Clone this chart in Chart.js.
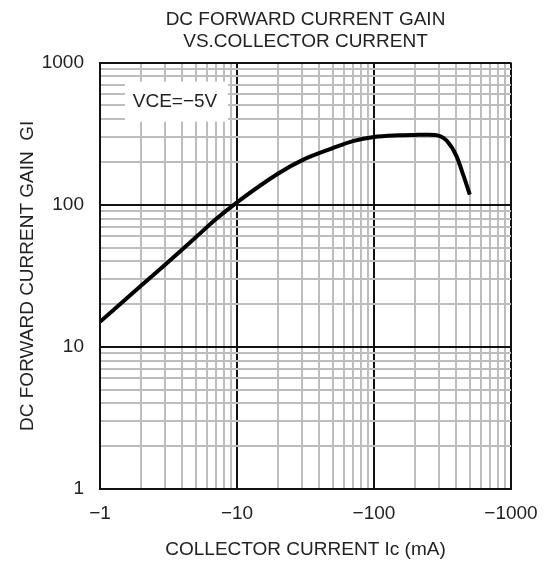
<!DOCTYPE html>
<html>
<head>
<meta charset="utf-8">
<script src="https://cdn.jsdelivr.net/npm/chart.js@4"></script>
<style>
  html, body { margin: 0; padding: 0; background: #fff; }
  #wrap { width: 544px; height: 564px; }
</style>
</head>
<body>
<div id="wrap"><canvas id="gainChart"></canvas></div>
<script>
// values (Ic in mA, negative = PNP)
const collectorCurrent = [-1, -2, -3, -5, -7, -10, -20, -30, -50, -70, -100, -150, -200, -250, -300, -340, -400, -450, -500];
const currentGain = [15, 27, 38, 59, 79, 104, 166, 206, 250, 280, 300, 308, 310, 311, 305, 282, 220, 160, 118];
const xDecades = [1, 10, 100, 1000];
const yDecades = [1, 10, 100, 1000];
const conditionLabel = 'VCE=\u22125V';

const fontFamily = "'Liberation Sans', Arial, sans-serif";
const textColor = '#222';

// 1,2,...9,10,20,... gridlines for a log-log paper look
function logGrid(decades) {
    const vals = [];
    for (let i = 0; i < decades.length; i++) {
        vals.push(decades[i]);
        if (i < decades.length - 1) {
            for (let k = 2; k <= 9; k++) vals.push(decades[i] * k);
        }
    }
    return vals;
}

function isDecade(v) {
    return Math.abs(Math.log10(v) - Math.round(Math.log10(v))) < 1e-9;
}

const conditionBox = {
    id: 'conditionBox',
    beforeDatasetsDraw(chart) {
        const { ctx, chartArea } = chart;
        const x = chartArea.left + 25;
        const y = chartArea.top + 19;
        ctx.save();
        ctx.fillStyle = '#fff';
        ctx.fillRect(x, y, 103, 40);
        ctx.fillStyle = textColor;
        ctx.font = '19px ' + fontFamily;
        ctx.textAlign = 'center';
        ctx.textBaseline = 'middle';
        ctx.fillText(conditionLabel, x + 50, y + 20);
        ctx.restore();
    }
};

const ctx = document.getElementById('gainChart').getContext('2d');
const gainChart = new Chart(ctx, {
    type: 'line',
    data: {
        datasets: [{
            label: 'hFE',
            data: collectorCurrent.map((ic, i) => ({ x: Math.abs(ic), y: currentGain[i] })),
            borderColor: '#000',
            borderWidth: 4,
            pointRadius: 0,
            cubicInterpolationMode: 'monotone',
            fill: false
        }]
    },
    options: {
        responsive: true,
        maintainAspectRatio: false,
        animation: false,
        layout: { padding: { left: 0, right: 33, top: 0, bottom: 0 } },
        plugins: {
            legend: { display: false },
            tooltip: { enabled: false },
            title: {
                display: true,
                fullSize: false,
                text: ['DC FORWARD CURRENT GAIN', 'VS.COLLECTOR CURRENT'],
                color: textColor,
                font: { family: fontFamily, size: 19, weight: 'normal', lineHeight: 1.2 },
                padding: { top: 8, bottom: 9 }
            }
        },
        scales: {
            x: {
                type: 'logarithmic',
                min: 1,
                max: 1000,
                afterBuildTicks: s => { s.ticks = logGrid(xDecades).map(v => ({ value: v })); },
                afterFit: s => { s.height = 75; s.paddingLeft = 0; s.paddingRight = 0; },
                ticks: {
                    autoSkip: false,
                    maxRotation: 0,
                    padding: 13,
                    color: textColor,
                    font: { family: fontFamily, size: 19 },
                    callback: v => xDecades.includes(v) ? '\u2212' + v : ''
                },
                grid: {
                    drawTicks: false,
                    color: c => (c.tick && isDecade(c.tick.value)) ? '#111' : '#bdbdbd',
                    lineWidth: 2
                },
                border: { color: '#111', width: 2 },
                title: {
                    display: true,
                    text: 'COLLECTOR CURRENT Ic (mA)',
                    color: textColor,
                    font: { family: fontFamily, size: 19 },
                    padding: { top: 10, bottom: 3 }
                }
            },
            y: {
                type: 'logarithmic',
                min: 1,
                max: 1000,
                afterBuildTicks: s => { s.ticks = logGrid(yDecades).map(v => ({ value: v })); },
                afterFit: s => { s.width = 100; },
                ticks: {
                    autoSkip: false,
                    padding: 16,
                    color: textColor,
                    font: { family: fontFamily, size: 19 },
                    callback: v => yDecades.includes(v) ? String(v) : ''
                },
                grid: {
                    drawTicks: false,
                    color: c => (c.tick && isDecade(c.tick.value)) ? '#111' : '#bdbdbd',
                    lineWidth: 2
                },
                border: { color: '#111', width: 2 },
                title: {
                    display: true,
                    text: 'DC FORWARD CURRENT GAIN  GI',
                    color: textColor,
                    font: { family: fontFamily, size: 19 },
                    padding: { top: 16, bottom: 0 }
                }
            }
        }
    },
    plugins: [conditionBox]
});
</script>
</body>
</html>
